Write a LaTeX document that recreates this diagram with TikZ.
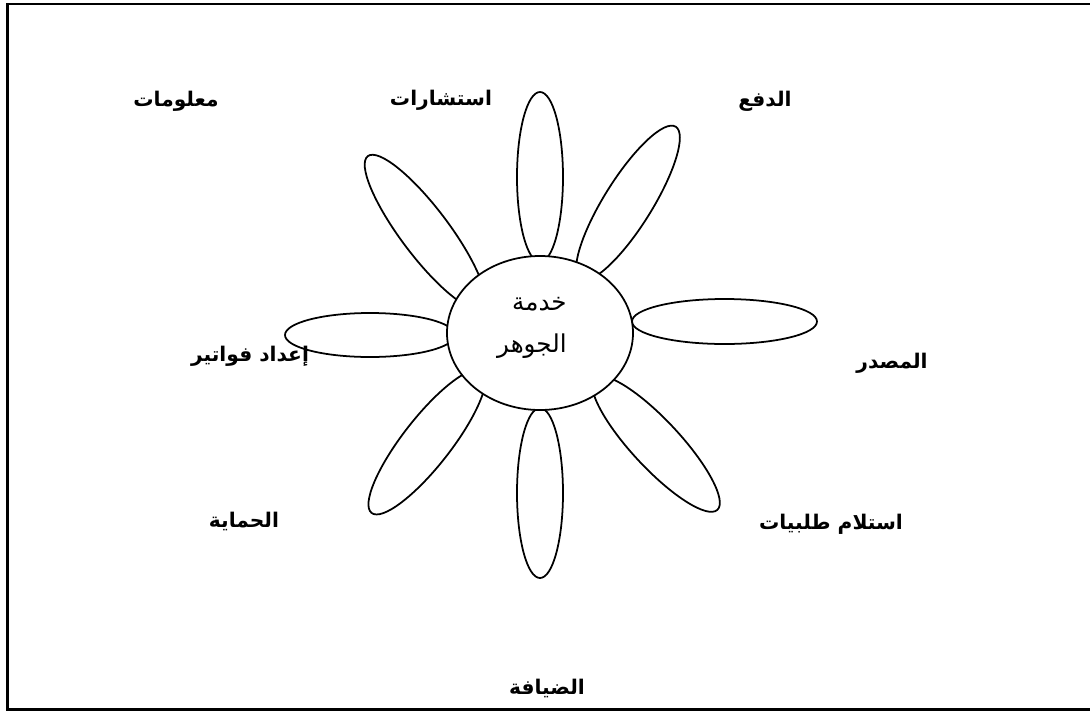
\documentclass[tikz,border=0pt]{standalone}
\usepackage{fontspec}
\usepackage{tikz}
\usetikzlibrary{calc}
\newfontfamily\arabicfont[Script=Arabic]{DejaVu Sans}
\TeXXeTstate=1
\tikzset{
  % frame
  frameline/.style = {line width=1.7pt, draw=black},
  % petals and core
  petal/.style     = {line width=1pt, draw=black, fill=white},
  core/.style      = {line width=1pt, draw=black, fill=white},
  coretext/.style  = {font=\arabicfont\fontsize{14}{24}\selectfont, align=right, inner sep=0pt},
  % labels
  lab/.style       = {font=\arabicfont\bfseries\fontsize{11.5}{14}\selectfont, inner sep=0pt},
}
\begin{document}
\begin{tikzpicture}[x=0.02cm, y=-0.02cm]
  \useasboundingbox (0,0) rectangle (1090,711);
  % Frame
  \draw[frameline] (7.5,4) rectangle (1091,709.5);
  % Petals (vertical ones)
  \draw[petal] (540,177) ellipse [x radius=23, y radius=85];
  \draw[petal] (540,493) ellipse [x radius=23, y radius=85];
  % Petals (horizontal ones)
  \draw[petal] (724.5,321.5) ellipse [x radius=92.5, y radius=22.5];
  \draw[petal] (370,335) ellipse [x radius=85, y radius=22];
  % Petals (slanted ones)
  \draw[petal, rotate around={-32:(628,203)}] (628,203) ellipse [x radius=24, y radius=90];
  \draw[petal, rotate around={37:(425,232)}] (425,232) ellipse [x radius=24, y radius=95];
  \draw[petal, rotate around={-38:(427,442)}] (427,442) ellipse [x radius=24, y radius=90];
  \draw[petal, rotate around={43:(656,444)}] (656,444) ellipse [x radius=24, y radius=90];
  % Core
  \draw[core] (540,333) ellipse [x radius=93, y radius=77];
  \node[coretext, anchor=north east] (coreT) at (567,297)
    {\beginR خدمة\endR\\\beginR الجوهر\endR};
  % Labels
  \node[lab] (info)    at (176,101) {\beginR معلومات\endR};
  \node[lab] (consult) at (441,100) {\beginR استشارات\endR};
  \node[lab] (pay)     at (765,101) {\beginR الدفع\endR};
  \node[lab] (bills)   at (250,356) {\beginR إعداد فواتير\endR};
  \node[lab] (source)  at (892,363) {\beginR المصدر\endR};
  \node[lab] (protect) at (244,521) {\beginR الحماية\endR};
  \node[lab] (orders)  at (831,524) {\beginR استلام طلبيات\endR};
  \node[lab] (hosting) at (547,688) {\beginR الضيافة\endR};
\end{tikzpicture}
\end{document}
